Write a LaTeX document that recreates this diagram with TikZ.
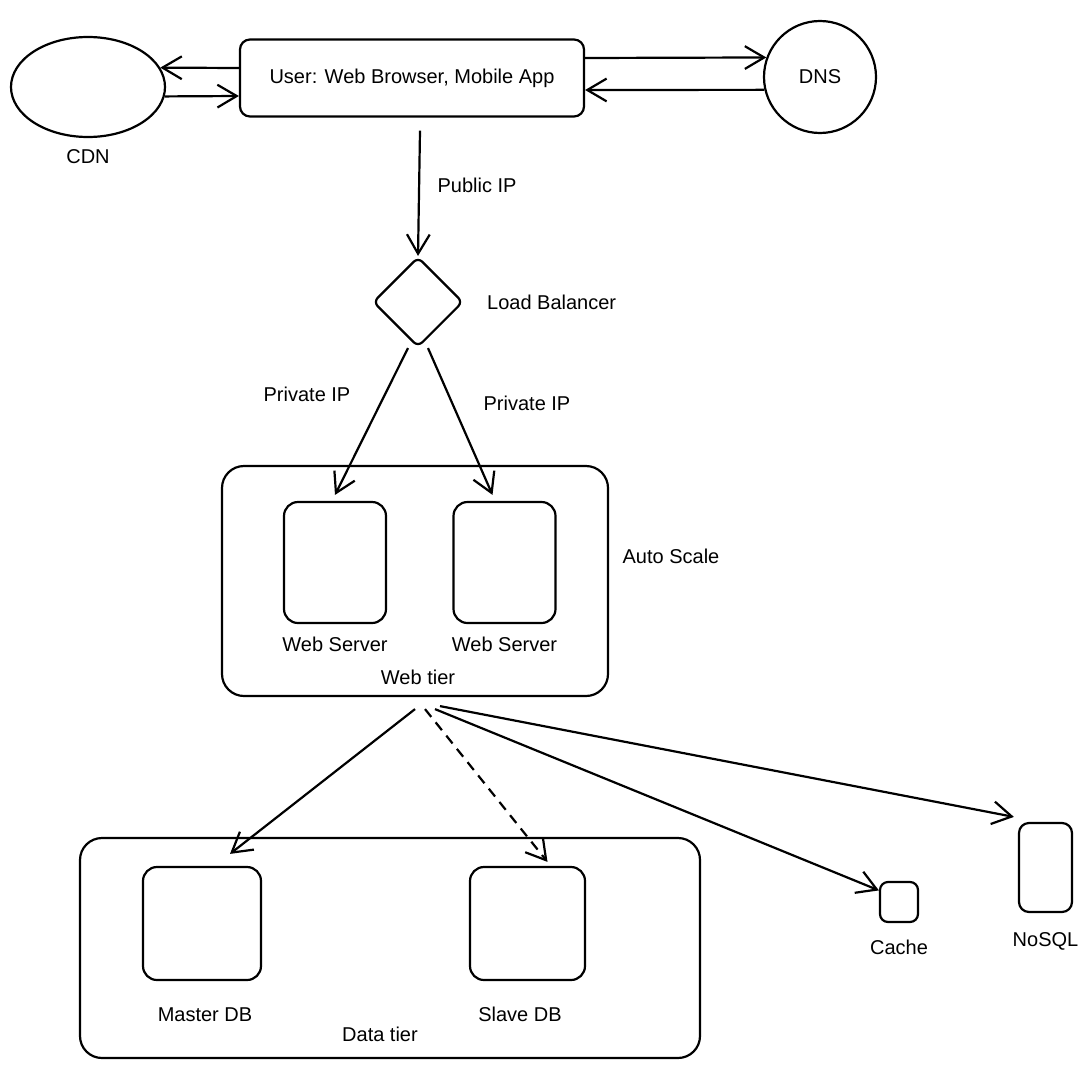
\documentclass[tikz,border=0pt]{standalone}
\usepackage{fontspec}
\setmainfont{Liberation Sans}
\usepackage{tikz}
\usetikzlibrary{positioning,arrows.meta,shapes.geometric}

\begin{document}
\begin{tikzpicture}[
  x=0.5pt, y=-0.5pt,
  font=\fontsize{10}{12}\selectfont,
  line width=1.1pt,
  box/.style={draw, rounded corners=7pt, inner sep=0pt},
  tier/.style={draw, rounded corners=11pt, inner sep=0pt},
  lbl/.style={inner sep=1pt},
  to/.style={-{Straight Barb[length=3.4mm, width=4mm]}, line width=1.1pt}]

\useasboundingbox (0,0) rectangle (1085,1070);

\node[draw, ellipse, minimum width=77pt, minimum height=50pt] (cdn) at (88,87) {};
\node[lbl, below=4pt of cdn] (cdnlbl) {CDN};
\node[box, rounded corners=5pt, minimum width=172pt, minimum height=38.5pt] (user)
  at (412,78) {User: Web Browser, Mobile App};
\node[draw, circle, minimum size=56pt, inner sep=0pt] (dns) at (820,77) {DNS};

\draw[to] ([yshift=5pt]user.west) -- (cdn.15);
\draw[to] (cdn.-7) -- ([yshift=-9pt]user.west);
\draw[to] ([yshift=10pt]user.east) -- (dns.160);
\draw[to] (dns.193) -- ([yshift=-6pt]user.east);

\node[draw, diamond, minimum width=45pt, minimum height=45pt, rounded corners=3pt] (lb) at (418,302) {};
\node[lbl, right=10pt of lb] (lblbl) {Load Balancer};
\draw[to] ([xshift=4pt, yshift=-6.5pt]user.south) -- (lb.north);
\node[lbl] (publbl) at (477,185) {Public IP};

\node[tier, minimum width=193pt, minimum height=115pt] (webtier) at (415,581) {};
\node[box, minimum width=51pt, minimum height=60.5pt] (ws1) at (335,562.5) {};
\node[box, minimum width=51pt, minimum height=60.5pt] (ws2) at (504.5,562.5) {};
\node[lbl, below=5pt of ws1] (ws1lbl) {Web Server};
\node[lbl, below=5pt of ws2] (ws2lbl) {Web Server};
\node[lbl] (webtierlbl) at (418,677) {Web tier};
\node[lbl] (autolbl) at (671,556) {Auto Scale};

\draw[to] ([xshift=-5pt]lb.south) -- ([yshift=3pt]ws1.north);
\draw[to] ([xshift=5pt]lb.south) -- ([xshift=-6pt, yshift=3pt]ws2.north);
\node[lbl] (priv1lbl) at (307,394) {Private IP};
\node[lbl] (priv2lbl) at (527,403) {Private IP};

\node[tier, minimum width=310pt, minimum height=110pt] (datatier) at (390,948) {};
\node[box, minimum width=59pt, minimum height=56.5pt] (master) at (202,923.5) {};
\node[box, minimum width=57.5pt, minimum height=56.5pt] (slave) at (527.5,923.5) {};
\node[lbl] (masterlbl) at (205,1015) {Master DB};
\node[lbl] (slavelbl) at (520,1014) {Slave DB};
\node[lbl] (datatierlbl) at (380,1034) {Data tier};

\node[box, rounded corners=4pt, minimum width=19pt, minimum height=20pt] (cache) at (899,902) {};
\node[lbl, below=7pt of cache] (cachelbl) {Cache};
\node[box, rounded corners=5pt, minimum width=26.5pt, minimum height=44.5pt] (nosql) at (1045.5,867.5) {};
\node[lbl, below=8pt of nosql] (nosqllbl) {NoSQL};

\coordinate (wt1) at ([yshift=-6pt]webtier.south);
\coordinate (wt2) at ([xshift=5pt, yshift=-6pt]webtier.south);
\coordinate (wt3) at ([xshift=10pt, yshift=-6pt]webtier.south);
\coordinate (wt4) at ([xshift=12.5pt, yshift=-4.5pt]webtier.south);

\draw[to] (wt1) -- ([xshift=14pt, yshift=6pt]master.north);
\draw[to, dash pattern=on 5pt off 3.5pt] (wt2) -- ([xshift=10pt, yshift=2pt]slave.north);
\draw[to] (wt3) -- (cache.150);
\draw[to] (wt4) -- ([xshift=-2pt, yshift=2.5pt]nosql.north west);
\end{tikzpicture}
\end{document}
